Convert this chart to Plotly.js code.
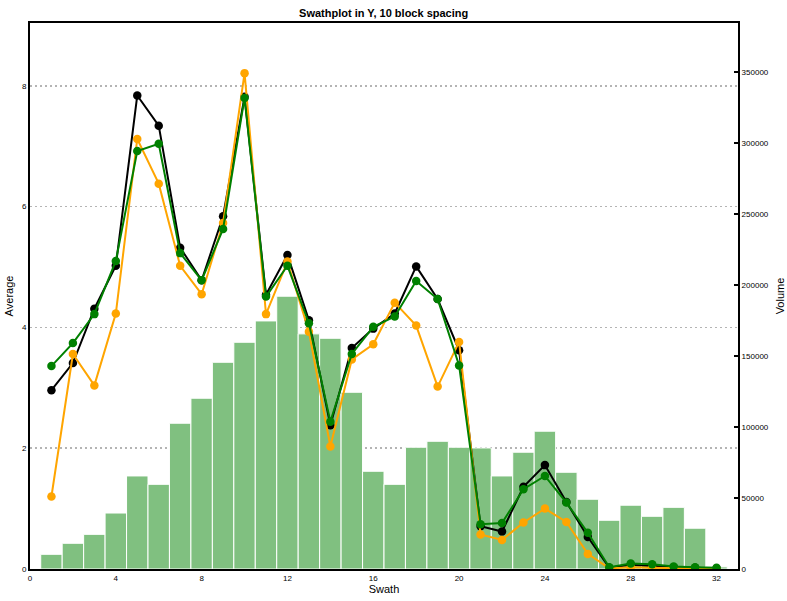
<!DOCTYPE html>
<html>
<head>
<meta charset="utf-8">
<script src="https://cdn.plot.ly/plotly-3.0.1.min.js"></script>
<style>
  html, body { margin: 0; padding: 0; background: #fff; }
  #chart { width: 787px; height: 601px; }
</style>
</head>
<body>
<div id="chart"></div>
<script>
// swath index along Y
const swath = [1, 2, 3, 4, 5, 6, 7, 8, 9, 10, 11, 12, 13, 14, 15, 16,
  17, 18, 19, 20, 21, 22, 23, 24, 25, 26, 27, 28, 29, 30, 31, 32];

// block volume per swath (right axis)
const volume = [10350, 18100, 24400, 39400, 65500, 59600, 102600, 120200,
  145500, 159600, 174600, 192000, 165500, 162400, 124400, 68800,
  59600, 85700, 89900, 85700, 85200, 65500, 82200, 97000,
  68100, 49100, 34300, 44900, 37100, 43400, 28700, 1500];

// averages (left axis)
const avgBlack = [2.96, 3.41, 4.31, 5.02, 7.84, 7.34, 5.32, 4.78,
  5.84, 7.82, 4.54, 5.20, 4.12, 2.38, 3.66, 3.98,
  4.23, 5.01, 4.47, 3.62, 0.71, 0.62, 1.36, 1.72,
  1.11, 0.53, 0.02, 0.07, 0.05, 0.03, 0.02, 0.01];
const avgOrange = [1.20, 3.56, 3.04, 4.23, 7.12, 6.38, 5.02, 4.55,
  5.73, 8.21, 4.22, 5.09, 3.93, 2.03, 3.47, 3.72,
  4.41, 4.03, 3.02, 3.76, 0.57, 0.48, 0.77, 1.00,
  0.78, 0.25, 0.01, 0.03, 0.02, 0.01, 0.01, 0.00];
const avgGreen = [3.36, 3.74, 4.22, 5.10, 6.92, 7.04, 5.23, 4.78,
  5.63, 7.80, 4.51, 5.02, 4.07, 2.44, 3.56, 4.01,
  4.18, 4.77, 4.47, 3.37, 0.74, 0.76, 1.32, 1.54,
  1.10, 0.60, 0.03, 0.09, 0.08, 0.04, 0.03, 0.02];

const xTicks = [0, 4, 8, 12, 16, 20, 24, 28, 32];
const avgTicks = [0, 2, 4, 6, 8];
const volTicks = [0, 50000, 100000, 150000, 200000, 250000, 300000, 350000];

function lineTrace(y, color) {
  return {
    type: "scatter",
    x: swath,
    y: y,
    yaxis: "y2",
    mode: "lines+markers",
    line: { color: color, width: 2 },
    marker: { color: color, size: 8.5 },
    hoverinfo: "x+y",
  };
}

let data = [
  {
    type: "bar",
    x: swath,
    y: volume,
    width: 1,
    marker: { color: "#80c080", line: { color: "#ffffff", width: 1 } },
  },
  lineTrace(avgBlack, "#000000"),
  lineTrace(avgOrange, "#ffa500"),
  lineTrace(avgGreen, "#008000"),
];

let font = { family: "Liberation Sans, Arial, sans-serif", color: "#000" };

let layout = {
  width: 787,
  height: 601,
  margin: { l: 30, r: 49, t: 23, b: 32 },
  paper_bgcolor: "#fff",
  plot_bgcolor: "#fff",
  showlegend: false,
  font: font,
  title: {
    text: "<b>Swathplot in Y, 10 block spacing</b>",
    font: { family: font.family, size: 11, color: "#000" },
    x: 0.4875,
    xanchor: "center",
    y: 0.985,
    yanchor: "top",
  },
  xaxis: {
    range: [0, 33],
    tickvals: xTicks,
    ticks: "",
    tickfont: { size: 8 },
    showgrid: false,
    zeroline: false,
    showline: true,
    linecolor: "#000",
    linewidth: 2,
    mirror: true,
    title: { text: "Swath", font: { size: 11 }, standoff: 2 },
  },
  yaxis: {
    range: [0, 384300],
    side: "right",
    tickvals: volTicks,
    tickformat: "d",
    ticks: "inside",
    ticklen: 4,
    tickwidth: 2,
    tickcolor: "#000",
    tickfont: { size: 8 },
    showgrid: false,
    zeroline: false,
    showline: true,
    linecolor: "#000",
    linewidth: 2,
    title: { text: "Volume", font: { size: 11 }, standoff: 8 },
  },
  yaxis2: {
    range: [0, 9.04],
    overlaying: "y",
    side: "left",
    tickvals: avgTicks,
    ticks: "",
    tickfont: { size: 8 },
    showgrid: true,
    gridcolor: "#b4b4b4",
    gridwidth: 1.5,
    griddash: "2px,3px",
    zeroline: false,
    showline: true,
    linecolor: "#000",
    linewidth: 2,
    title: { text: "Average", font: { size: 11 }, standoff: 6 },
  },
};

Plotly.newPlot("chart", data, layout, { displayModeBar: false, staticPlot: true });
</script>
</body>
</html>
